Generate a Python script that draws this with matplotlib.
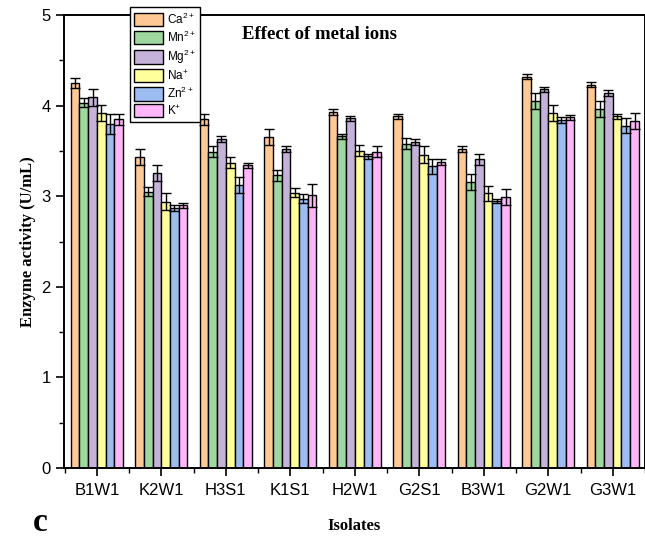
import matplotlib
matplotlib.use("Agg")
import matplotlib.pyplot as plt
import numpy as np

plt.rcParams['font.family'] = ['Liberation Sans', 'DejaVu Sans']
plt.rcParams['mathtext.fontset'] = 'custom'
plt.rcParams['mathtext.rm'] = 'Liberation Sans'
plt.rcParams['mathtext.default'] = 'regular'

isolates = ["B1W1", "K2W1", "H3S1", "K1S1", "H2W1", "G2S1", "B3W1", "G2W1", "G3W1"]
ion_labels = ["Ca$^{2+}$", "Mn$^{2+}$", "Mg$^{2+}$", "Na$^{+}$", "Zn$^{2+}$", "K$^{+}$"]
colors = ["#FFC895", "#9FD89F", "#C4B2D8", "#FFFF9C", "#9CBCF2", "#FFB6F8"]

ca = [4.25, 3.43, 3.85, 3.65, 3.93, 3.88, 3.52, 4.32, 4.23]
mn = [4.03, 3.05, 3.49, 3.23, 3.66, 3.58, 3.16, 4.05, 3.96]
mg = [4.09, 3.26, 3.63, 3.52, 3.86, 3.60, 3.41, 4.18, 4.14]
na = [3.92, 2.94, 3.37, 3.04, 3.50, 3.46, 3.03, 3.92, 3.88]
zn = [3.80, 2.87, 3.12, 2.97, 3.44, 3.33, 2.95, 3.84, 3.78]
k = [3.85, 2.90, 3.34, 3.01, 3.49, 3.38, 2.99, 3.87, 3.83]

ca_err = [0.06, 0.09, 0.06, 0.09, 0.03, 0.03, 0.03, 0.03, 0.03]
mn_err = [0.05, 0.05, 0.06, 0.06, 0.03, 0.06, 0.09, 0.09, 0.09]
mg_err = [0.09, 0.09, 0.03, 0.03, 0.03, 0.03, 0.06, 0.03, 0.03]
na_err = [0.09, 0.09, 0.06, 0.05, 0.06, 0.09, 0.08, 0.09, 0.03]
zn_err = [0.11, 0.03, 0.09, 0.05, 0.03, 0.08, 0.02, 0.03, 0.08]
k_err = [0.06, 0.03, 0.03, 0.13, 0.06, 0.03, 0.09, 0.03, 0.09]

series = [ca, mn, mg, na, zn, k]
errors = [ca_err, mn_err, mg_err, na_err, zn_err, k_err]

fig = plt.figure(figsize=(6.45, 5.4), dpi=100)
ax = fig.add_axes([0.0992, 0.1333, 0.9008, 0.8389])

x = np.arange(1, len(isolates) + 1)
bw = 0.135
handles = []
for i, (vals, errs) in enumerate(zip(series, errors)):
    pos = x + (i - 2.5) * bw
    b = ax.bar(pos, vals, width=bw, color=colors[i], edgecolor='black',
               linewidth=1.0, label=ion_labels[i], zorder=2)
    ax.errorbar(pos, vals, yerr=errs, fmt='none', ecolor='black',
                elinewidth=1.0, capsize=3.5, capthick=1.0, zorder=3)
    handles.append(b)

ax.set_xlim(0.49, 9.5)
ax.set_ylim(0, 5)
ax.set_xticks(x)
ax.set_xticklabels(isolates, fontsize=12)
ax.set_xticks(np.arange(0.5, 9.6, 1.0), minor=True)
ax.set_yticks(range(0, 6))
ax.set_yticklabels([str(v) for v in range(0, 6)], fontsize=12)
ax.set_yticks(np.arange(0.5, 5, 1.0), minor=True)
ax.tick_params(axis='both', which='major', direction='out', length=6, width=1.2)
ax.tick_params(axis='x', which='major', pad=5)
ax.tick_params(axis='both', which='minor', direction='out', length=3.5, width=1.0)
for s in ax.spines.values():
    s.set_linewidth(1.4)

ax.set_ylabel("Enzyme activity (U/mL)", fontsize=12, fontweight='bold',
              family='Liberation Serif', labelpad=4)
ax.set_xlabel("Isolates", fontsize=12, fontweight='bold',
              family='Liberation Serif', labelpad=14)

ax.text(0.44, 0.958, "Effect of metal ions", transform=ax.transAxes,
        ha='center', va='center', fontsize=13.5, fontweight='bold',
        family='Liberation Serif')

leg = ax.legend(handles=handles, loc='upper left',
                bbox_to_anchor=(0.113, 1.017), fontsize=8.5, frameon=True,
                fancybox=False, edgecolor='black', framealpha=1,
                handlelength=2.5, handleheight=1.35, handletextpad=0.3,
                labelspacing=0.25, borderpad=0.35, borderaxespad=0)
leg.get_frame().set_linewidth(1.0)
leg.set_zorder(5)

fig.text(0.062, 0.004, "c", fontsize=24, fontweight='bold',
         family='Liberation Serif', ha='center', va='bottom')

fig.savefig("out.png", dpi=100)
